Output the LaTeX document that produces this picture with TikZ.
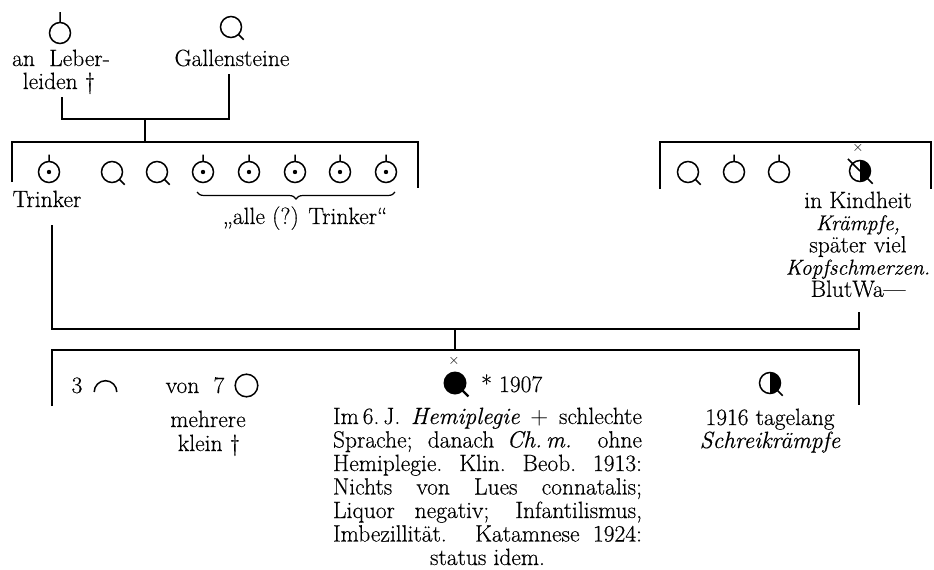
\documentclass[tikz,border=0pt]{standalone}
\usepackage{fontspec}
\setmainfont{Latin Modern Roman}[FakeBold=0.35]
\usetikzlibrary{decorations.pathreplacing}
\newcommand\pedfont{\fontsize{23.5}{24}\selectfont}
\newcommand\smallit[1]{{\fontsize{21.5}{22}\selectfont\itshape #1}}
\newcommand\pline[1]{\makebox[309pt][s]{#1}}
\begin{document}
\begin{tikzpicture}[x=1pt,y=-1pt,
  bar/.style={line width=2.6pt},
  sym/.style={line width=1.5pt},
  txt/.style={font=\pedfont, inner sep=0pt, anchor=base},
  xsign/.style={font=\fontsize{14}{14}\selectfont, inner sep=0pt},
  pics/pmale/.style={code={\draw[sym] (0,0) circle[radius=10.5] (0,-10.5) -- (0,-17.5);}},
  pics/pmaledot/.style={code={\draw[sym] (0,0) circle[radius=10.5] (0,-10.5) -- (0,-17.5);
      \fill (0,0) circle[radius=2.2];}},
  pics/pfemale/.style={code={\draw[sym] (0,0) circle[radius=10.5] (45:10.5) -- (45:18);}},
  pics/pfemfill/.style={code={\fill (0,0) circle[radius=11.5];
      \draw[line width=2.2pt] (45:10) -- (45:19);}},
  pics/pfemhalf/.style={code={\fill (0,-10.5) arc[start angle=-90,end angle=90,radius=10.5] -- cycle;
      \draw[sym] (0,0) circle[radius=10.5] (45:10.5) -- (45:18);}},
  pics/pcircle/.style={code={\draw[sym] (0,0) circle[radius=11.3];}},
  pics/parc/.style={code={\draw[sym] (-11.3,0) arc[start angle=180,end angle=360,radius=11.3];}},
]
\useasboundingbox (0,0) rectangle (934,570);

% ---- parents
\coordinate (fa) at (60,33);
\coordinate (mo) at (231,27);
\draw[sym] (fa) circle[radius=10.5] ([yshift=10.5pt]fa) -- ([yshift=21pt]fa);
\pic at (mo) {pfemale};
\node[txt] (faA) at (61,66) {an\ \ Leber-};
\node[txt] (faB) at (59,89) {leiden \textdagger};
\node[txt] (moA) at (232,66) {Gallensteine};

\coordinate (faDrop) at (62,97);
\coordinate (moDrop) at (229,74);
\coordinate (parMid) at (145,119);
\coordinate (sibTop) at (145,142);
\draw[bar] (faDrop) |- (moDrop |- parMid) -- (moDrop);
\draw[bar] (parMid) -- (sibTop);

% ---- sibship of the father
\coordinate (sL) at (12,182);
\coordinate (sR) at (418,188);
\draw[bar] (sL) |- (sR |- sibTop) -- (sR);
\coordinate (s1) at (49,172);
\coordinate (s2) at (112,172);
\coordinate (s3) at (157,172);
\coordinate (s4) at (203,172);
\coordinate (s5) at (249,172);
\coordinate (s6) at (295,172);
\coordinate (s7) at (340,172);
\coordinate (s8) at (386,172);
\pic at (s1) {pmaledot};
\pic at (s2) {pfemale};
\pic at (s3) {pfemale};
\foreach \s in {s4,s5,s6,s7,s8} \pic at (\s) {pmaledot};
\node[txt] (trk) at (47,207) {Trinker};
\draw[decorate, decoration={brace, mirror, amplitude=7pt}, line width=1.2pt]
  (197,192) -- (395,192);
\node[txt] (alle) at (305,224) {„alle (?) Trinker“};

% ---- sibship of the mother
\coordinate (rL) at (660,189);
\coordinate (rR) at (931,189);
\coordinate (rTop) at (796,142);
\draw[bar] (rL) |- (rTop) -| (rR);
\coordinate (r1) at (688,172);
\coordinate (r2) at (734,172);
\coordinate (r3) at (779,172);
\coordinate (r4) at (860,171);
\pic at (r1) {pfemale};
\pic at (r2) {pmale};
\pic at (r3) {pmale};
\pic at (r4) {pfemhalf};
\draw[sym] (r4) ++(225:17) -- (r4);
\node[xsign] (r4x) at (858,148) {$\times$};
\foreach \t [count=\k from 0] in {in Kindheit, \smallit{Krämpfe,}, später viel,
    \smallit{Kopfschmerzen.}, BlutWa—}
  \node[txt] (rt\k) at (858,{208+22.2*\k}) {\t};

% ---- marriage of the parents' generation
\coordinate (trkDrop) at (52,225);
\coordinate (mumDrop) at (859,312);
\coordinate (cMid) at (455,329);
\coordinate (cTop) at (455,350);
\draw[bar] (trkDrop) |- (mumDrop |- cMid) -- (mumDrop);
\draw[bar] (cMid) -- (cTop);

% ---- children
\coordinate (cL) at (52,406);
\coordinate (cR) at (859,405);
\draw[bar] (cL) |- (cTop) -| (cR);

\node[txt] (three) at (77,393) {3};
\coordinate (arcC) at (105.5,392);
\pic at (arcC) {parc};
\node[txt] (von) at (195,393) {von\ \ 7};
\coordinate (vonC) at (246.5,385.5);
\pic at (vonC) {pcircle};
\node[txt] (mehr) at (208,427) {mehrere};
\node[txt] (klein) at (209,451) {klein \textdagger};

\coordinate (prob) at (455,383);
\pic at (prob) {pfemfill};
\node[xsign] (probx) at (454,361) {$\times$};
\node[txt, anchor=base west] (born) at (481,392) {*\ 1907};
\foreach \t [count=\k from 0] in {
    \pline{Im\,6.\,J. \textit{Hemiplegie} $+$ schlechte},
    \pline{Sprache; danach \textit{Ch.\,m.} ohne},
    \pline{Hemiplegie. Klin. Beob. 1913:},
    \pline{Nichts von Lues connatalis;},
    \pline{Liquor negativ; Infantilismus,},
    \pline{Imbezillität. Katamnese 1924:},
    status idem.}
  \node[txt] (par\k) at (487.5,{424+23.5*\k}) {\t};

\coordinate (sis) at (770,383);
\pic at (sis) {pfemhalf};
\node[txt] (sisA) at (770,425) {1916 tagelang};
\node[txt] (sisB) at (770,448) {\textit{Schreikrämpfe}};
\end{tikzpicture}
\end{document}
